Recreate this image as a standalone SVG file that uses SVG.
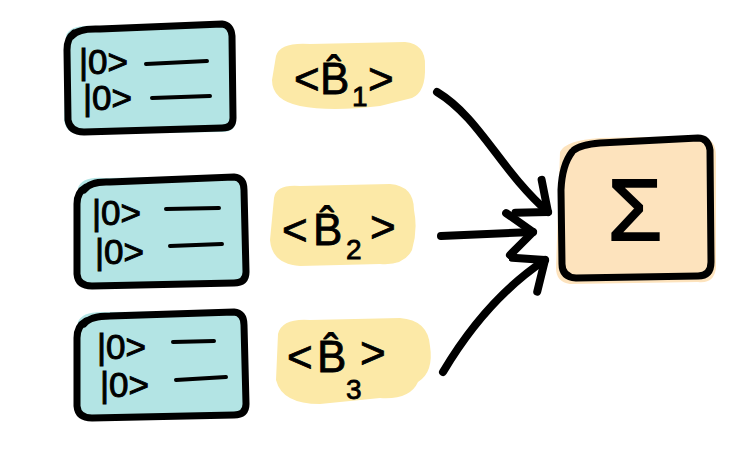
<svg xmlns="http://www.w3.org/2000/svg" width="755" height="452" viewBox="0 0 755 452">
<style>
.fillq{fill:#b3e4e4;stroke:none}
.edge{fill:none;stroke:#000;stroke-width:7;stroke-linecap:round;stroke-linejoin:round}
.ket{font-family:"Liberation Sans",Arial,sans-serif;font-size:35px;fill:#000;stroke:#000;stroke-width:1}
.wire{fill:none;stroke:#000;stroke-width:4;stroke-linecap:round}
.bub{fill:#fce9a7;stroke:none}
.lab{font-family:"Liberation Sans",Arial,sans-serif;font-size:44px;fill:#000;stroke:#000;stroke-width:0.8}
.sub{font-family:"Liberation Sans",Arial,sans-serif;font-size:28px;fill:#000;stroke:#000;stroke-width:0.8}
.conn{fill:none;stroke:#000;stroke-width:8;stroke-linecap:round;stroke-linejoin:round}
</style>
<defs>
<marker id="ah" markerUnits="userSpaceOnUse" markerWidth="60" markerHeight="60" refX="30" refY="30" orient="auto" viewBox="0 0 60 60">
<path d="M4,10 L30,30 L6,52" fill="none" stroke="#000" stroke-width="8" stroke-linecap="round" stroke-linejoin="round"/>
</marker>
</defs>
<rect width="755" height="452" fill="#fff"/>

<g id="reg1">
<path class="fillq" d="M66,36 Q70,24 95,26 L225,24 Q234,26 234,40 L236,120 Q236,132 222,132 L80,134 Q66,134 64,120 Z"/>
<path class="edge" d="M72,36 Q78,28 100,29 L222,24 Q231,25 232,36 L233,118 Q233,128 222,128 L84,132 Q70,132 68,120 L67,50 Q67,38 74,33"/>
<text class="ket" x="79" y="74">|0&gt;</text>
<path class="wire" d="M146,64 L207,61"/>
<text class="ket" x="83" y="110">|0&gt;</text>
<path class="wire" d="M152,98 L210,96"/>
</g>

<g id="reg2">
<path class="fillq" d="M78,188 Q82,176 105,178 L236,176 Q247,178 246,192 L248,272 Q248,284 234,284 L92,286 Q78,286 76,272 Z"/>
<path class="edge" d="M84,190 Q90,181 110,182 L234,177 Q244,178 244,190 L246,272 Q246,283 234,283 L92,286 Q78,286 77,274 L77,204 Q77,192 86,187"/>
<text class="ket" x="92" y="225">|0&gt;</text>
<path class="wire" d="M166,209 L219,208"/>
<text class="ket" x="95" y="264">|0&gt;</text>
<path class="wire" d="M170,246 L222,244"/>
</g>

<g id="reg3">
<path class="fillq" d="M78,322 Q82,311 105,312 L236,311 Q247,313 246,326 L248,404 Q248,416 234,416 L92,418 Q78,418 76,404 Z"/>
<path class="edge" d="M84,324 Q90,316 110,316 L234,312 Q244,313 244,325 L246,404 Q246,415 234,415 L92,418 Q78,418 77,406 L77,338 Q77,326 86,321"/>
<text class="ket" x="97" y="359">|0&gt;</text>
<path class="wire" d="M173,342 L214,341"/>
<text class="ket" x="100" y="397">|0&gt;</text>
<path class="wire" d="M176,380 L226,377"/>
</g>

<g id="b1">
<path class="bub" d="M276,56 Q280,42 310,44 L405,42 Q426,44 425,66 Q426,92 412,98 L380,106 Q330,112 300,106 Q272,100 272,80 Z"/>
<text class="lab" x="294" y="94">&lt;</text>
<text class="lab" x="320" y="94">B̂</text>
<text class="sub" x="352" y="106">1</text>
<text class="lab" x="368" y="94">&gt;</text>
</g>

<g id="b2">
<path class="bub" d="M274,198 Q276,184 300,186 L390,184 Q414,186 414,210 Q418,230 412,250 Q404,266 380,264 L300,266 Q272,264 270,240 Z"/>
<text class="lab" x="282" y="245">&lt;</text>
<text class="lab" x="313" y="245">B̂</text>
<text class="sub" x="346" y="259">2</text>
<text class="lab" x="370" y="242">&gt;</text>
</g>

<g id="b3">
<path class="bub" d="M278,334 Q282,318 310,320 L400,318 Q428,320 430,346 Q434,372 418,382 Q410,400 380,398 L320,404 Q282,404 276,380 Z"/>
<text class="lab" x="287" y="372">&lt;</text>
<text class="lab" x="317" y="372">B̂</text>
<text class="sub" x="346" y="399">3</text>
<text class="lab" x="360" y="368">&gt;</text>
</g>

<g id="sum">
<path d="M560,152 Q566,140 600,138 L700,136 Q716,138 716,156 L716,268 Q714,284 698,282 L570,284 Q556,282 556,268 Z" fill="#fde3bd"/>
<path class="edge" d="M574,150 Q580,145 600,143 L698,138 Q708,138 710,150 L711,262 Q711,276 698,276 L576,278 Q562,277 562,264 L561,190 Q562,165 572,152"/>
<text x="635" y="240" text-anchor="middle" font-family="'Liberation Sans',Arial,sans-serif" font-size="88" fill="#000" stroke="#000" stroke-width="2">Σ</text>
</g>

<g id="connectors">
<path class="conn" d="M437,92 C480,118 500,170 548,212" marker-end="url(#ah)"/>
<path class="conn" d="M441,236 L533,232" marker-end="url(#ah)"/>
<path class="conn" d="M443,372 C468,330 500,290 545,260" marker-end="url(#ah)"/>
</g>
</svg>
